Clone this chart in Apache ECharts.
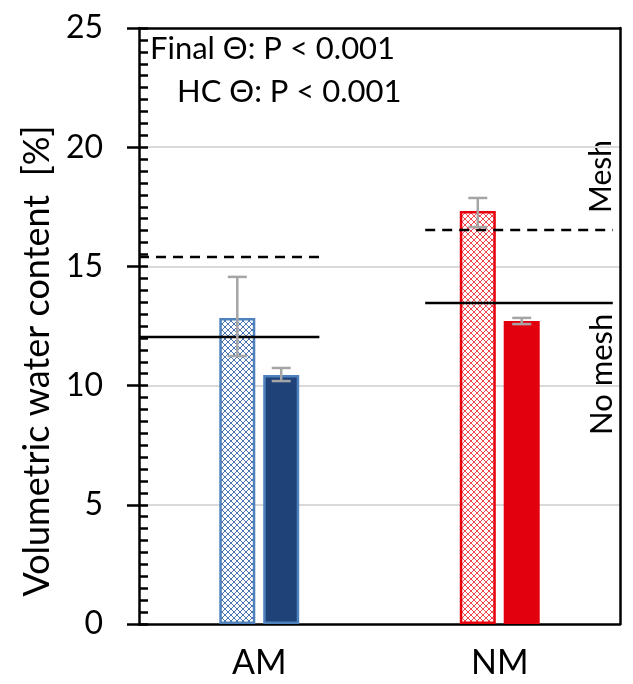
<!DOCTYPE html>
<html>
<head>
<meta charset="utf-8">
<script src="https://cdn.jsdelivr.net/npm/echarts@6/dist/echarts.min.js"></script>
<style>
  html, body { margin: 0; padding: 0; background: #fff; }
  #chart { width: 633px; height: 684px; }
</style>
</head>
<body>
<div id="chart"></div>
<script>
// categories and values
var sites = ['AM', 'NM']
var finalTheta = [12.84, 17.32]      // hatched bars
var hcTheta = [10.44, 12.71]         // solid bars
var finalLow = [11.24, 16.65]
var finalHigh = [14.56, 17.87]
var hcLow = [10.19, 12.58]
var hcHigh = [10.74, 12.84]
// reference lines (x in category units, 0..2)
var meshLevel = [15.39, 16.53]
var noMeshLevel = [12.04, 13.47]
var lineStart = [0, 1.19]
var lineEnd = [0.75, 1.97]
var yTicks = [0, 25, 5]

var font = 'Lato, "Open Sans", sans-serif'
var W = 633
var plotLeft = 139
var barW = 36
var gapPct = 0.22
var shift = (barW + barW * gapPct) / 2

function hatch(color) {
    var c = document.createElement('canvas')
    c.width = 6
    c.height = 6
    var ctx = c.getContext('2d')
    ctx.fillStyle = '#fff'
    ctx.fillRect(0, 0, 6, 6)
    ctx.strokeStyle = color
    ctx.lineWidth = 1
    ctx.beginPath()
    ctx.moveTo(0, 0); ctx.lineTo(6, 6)
    ctx.moveTo(6, 0); ctx.lineTo(0, 6)
    ctx.stroke()
    return { image: c, repeat: 'repeat' }
}

var hatchBlue = hatch('#4a74b4')
var hatchRed = hatch('#f0474f')

function errorSeries(low, high, dx) {
    return {
        type: 'custom',
        xAxisIndex: 0,
        yAxisIndex: 0,
        z: 10,
        data: sites.map(function(s, i) { return [i, low[i], high[i]] }),
        renderItem: function(params, api) {
            var a = api.coord([api.value(0), api.value(1)])
            var b = api.coord([api.value(0), api.value(2)])
            var x = a[0] + dx
            var cap = 9.5
            var st = { stroke: '#a5a5a5', lineWidth: 2.5 }
            return {
                type: 'group',
                children: [
                    { type: 'line', shape: { x1: x, y1: a[1], x2: x, y2: b[1] }, style: st },
                    { type: 'line', shape: { x1: x - cap, y1: a[1], x2: x + cap, y2: a[1] }, style: st },
                    { type: 'line', shape: { x1: x - cap, y1: b[1], x2: x + cap, y2: b[1] }, style: st }
                ]
            }
        }
    }
}

function refLine(level, dashed) {
    return sites.map(function(s, i) {
        return {
            type: 'line',
            xAxisIndex: 1,
            yAxisIndex: 0,
            symbol: 'none',
            silent: true,
            z: 8,
            lineStyle: { color: '#000', width: 2.5, type: dashed ? [10, 7] : 'solid' },
            data: [[lineStart[i], level[i]], [lineEnd[i], level[i]]]
        }
    })
}

var chart = echarts.init(document.getElementById('chart'))

var series = [
    {
        type: 'bar',
        barWidth: barW,
        barGap: (gapPct * 100) + '%',
        data: finalTheta.map(function(v, i) {
            return {
                value: v,
                itemStyle: i === 0
                    ? { color: hatchBlue, borderColor: '#4f81bd', borderWidth: 2.5 }
                    : { color: hatchRed, borderColor: '#e8000d', borderWidth: 2.5 }
            }
        })
    },
    {
        type: 'bar',
        barWidth: barW,
        data: hcTheta.map(function(v, i) {
            return {
                value: v,
                itemStyle: i === 0
                    ? { color: '#1f4279', borderColor: '#4f81bd', borderWidth: 2.5 }
                    : { color: '#e3000e', borderColor: '#e3000e', borderWidth: 2.5 }
            }
        })
    },
    errorSeries(finalLow, finalHigh, -shift),
    errorSeries(hcLow, hcHigh, shift)
].concat(refLine(meshLevel, true), refLine(noMeshLevel, false))

var frameLine = { show: true, onZero: false, lineStyle: { color: '#000', width: 2.5 } }

chart.setOption({
    animation: false,
    grid: [
        { left: plotLeft, right: 13, top: 28, bottom: 60 },
        // narrow grid ending at the left axis: its right axis draws the fine ticks pointing into the plot
        { left: 100, right: W - plotLeft, top: 28, bottom: 60 }
    ],
    xAxis: [
        {
            type: 'category',
            data: sites,
            axisLine: frameLine,
            axisTick: { show: false },
            axisLabel: { color: '#000', fontSize: 34, fontFamily: font, margin: 22 }
        },
        { type: 'value', min: 0, max: 2, show: false },
        {
            type: 'category', data: sites, position: 'top',
            axisLine: frameLine, axisTick: { show: false }, axisLabel: { show: false }
        },
        { type: 'value', gridIndex: 1, min: 0, max: 1, show: false }
    ],
    yAxis: [
        {
            type: 'value',
            min: yTicks[0], max: yTicks[1], interval: yTicks[2],
            name: 'Volumetric water content  [%]',
            nameLocation: 'middle',
            nameGap: 80,
            nameTextStyle: { color: '#000', fontSize: 36, fontFamily: font, padding: [0, 70, 0, 0] },
            axisLine: frameLine,
            axisTick: { show: true, length: 12, lineStyle: { color: '#000', width: 2.5 } },
            axisLabel: { color: '#000', fontSize: 32, fontFamily: font, margin: 36 },
            splitLine: { showMinLine: false, showMaxLine: false, lineStyle: { color: '#d9d9d9', width: 2 } }
        },
        {
            type: 'value',
            position: 'right',
            min: yTicks[0], max: yTicks[1],
            axisLine: frameLine, axisTick: { show: false },
            axisLabel: { show: false }, splitLine: { show: false }
        },
        {
            type: 'value',
            gridIndex: 1,
            position: 'right',
            min: yTicks[0], max: yTicks[1], interval: 0.5,
            axisLine: { show: false, onZero: false },
            axisTick: { show: true, length: 9, lineStyle: { color: '#000', width: 2.5 } },
            axisLabel: { show: false },
            splitLine: { show: false }
        }
    ],
    graphic: [
        { type: 'text', left: 150, top: 33, style: { text: 'Final Θ: P < 0.001', fontSize: 31, fontFamily: font, fill: '#000' } },
        { type: 'text', left: 177, top: 76, style: { text: 'HC Θ: P < 0.001', fontSize: 31, fontFamily: font, fill: '#000' } },
        { type: 'text', x: 586, y: 213, rotation: Math.PI / 2, style: { text: 'Mesh', fontSize: 30, fontFamily: font, fill: '#000' } },
        { type: 'text', x: 586, y: 435, rotation: Math.PI / 2, style: { text: 'No mesh', fontSize: 31, fontFamily: font, fill: '#000' } }
    ],
    series: series
})
</script>
</body>
</html>
